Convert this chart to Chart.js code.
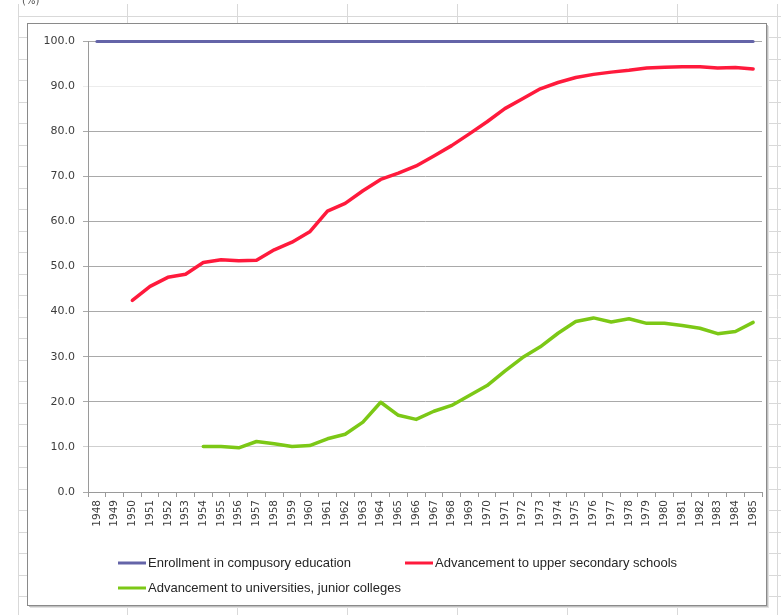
<!DOCTYPE html>
<html>
<head>
<meta charset="utf-8">
<script src="https://cdn.jsdelivr.net/npm/chart.js@4.4.1/dist/chart.umd.min.js"></script>
<style>
  html, body { margin: 0; padding: 0; background: #ffffff; }
  #wrap { width: 781px; height: 615px; position: relative; }
</style>
</head>
<body>
<div id="wrap"><canvas id="chart" width="781" height="615"></canvas></div>
<script>
// School enrollment / advancement rates (%), 1948-1985
const years = ['1948','1949','1950','1951','1952','1953','1954','1955','1956','1957',
  '1958','1959','1960','1961','1962','1963','1964','1965','1966','1967',
  '1968','1969','1970','1971','1972','1973','1974','1975','1976','1977',
  '1978','1979','1980','1981','1982','1983','1984','1985'];

const compulsoryEnrollment = [99.9, 99.9, 99.9, 99.9, 99.9, 99.9, 99.9, 99.9, 99.9, 99.9,
  99.9, 99.9, 99.9, 99.9, 99.9, 99.9, 99.9, 99.9, 99.9, 99.9,
  99.9, 99.9, 99.9, 99.9, 99.9, 99.9, 99.9, 99.9, 99.9, 99.9,
  99.9, 99.9, 99.9, 99.9, 99.9, 99.9, 99.9, 99.9];

const upperSecondary = [null, null, 42.5, 45.6, 47.6, 48.3, 50.9, 51.5, 51.3, 51.4,
  53.7, 55.4, 57.7, 62.3, 64.0, 66.8, 69.3, 70.7, 72.3, 74.5,
  76.8, 79.4, 82.1, 85.0, 87.2, 89.4, 90.8, 91.9, 92.6, 93.1,
  93.5, 94.0, 94.2, 94.3, 94.3, 94.0, 94.1, 93.8];

const universities = [null, null, null, null, null, null, 10.1, 10.1, 9.8, 11.2,
  10.7, 10.1, 10.3, 11.8, 12.8, 15.5, 19.9, 17.0, 16.1, 17.9,
  19.2, 21.4, 23.6, 26.8, 29.8, 32.2, 35.2, 37.8, 38.6, 37.7,
  38.4, 37.4, 37.4, 36.9, 36.3, 35.1, 35.6, 37.6];

const seriesLabels = ['Enrollment in compusory education',
  'Advancement to upper secondary schools',
  'Advancement to universities, junior colleges'];
const seriesColors = ['#6464a8', '#ff1a3c', '#7cc816'];

// Worksheet backdrop: cell grid, the "(%)" caption cell and the chart frame
const sheetPlugin = {
  id: 'sheet',
  beforeDraw(chart) {
    const ctx = chart.ctx;
    const W = chart.width, H = chart.height;
    ctx.save();
    ctx.fillStyle = '#ffffff';
    ctx.fillRect(0, 0, W, H);
    ctx.strokeStyle = '#d9d9d9';
    ctx.lineWidth = 1;
    // column boundaries
    const cols = [18.5, 127.5, 237.5, 347.5, 457.5, 567.5, 677.5, 777.5];
    cols.forEach(x => {
      ctx.beginPath(); ctx.moveTo(x, 4); ctx.lineTo(x, H); ctx.stroke();
    });
    // row boundaries
    for (let y = 15.5; y < H; y += 21.5) {
      const yy = Math.round(y) + 0.5;
      ctx.beginPath(); ctx.moveTo(19, yy); ctx.lineTo(W, yy); ctx.stroke();
    }
    // caption cell text, partly above the visible area
    ctx.fillStyle = '#555555';
    ctx.font = '10px "DejaVu Sans"';
    ctx.textBaseline = 'alphabetic';
    ctx.fillText('(%)', 22, 4);
    // chart frame with a soft shadow
    const fx = 27, fy = 23, fw = 739, fh = 582;
    ctx.fillStyle = '#e2e2e2';
    ctx.fillRect(fx + 3, fy + 3, fw, fh);
    ctx.fillStyle = '#c0c0c0';
    ctx.fillRect(fx + 2, fy + 2, fw, fh);
    ctx.fillStyle = '#ffffff';
    ctx.fillRect(fx, fy, fw, fh);
    ctx.strokeStyle = '#8a8a8a';
    ctx.strokeRect(fx + 0.5, fy + 0.5, fw, fh);
    ctx.restore();
  }
};

// Legend laid out in two left-aligned rows below the axis
const legendPlugin = {
  id: 'rowLegend',
  afterDraw(chart) {
    const ctx = chart.ctx;
    const slots = [[118, 563], [405, 563], [118, 588]];
    ctx.save();
    ctx.font = '13px "Liberation Sans", sans-serif';
    ctx.textBaseline = 'middle';
    chart.data.datasets.forEach((ds, i) => {
      const [x, y] = slots[i];
      ctx.strokeStyle = ds.borderColor;
      ctx.lineWidth = 3;
      ctx.beginPath(); ctx.moveTo(x, y); ctx.lineTo(x + 28, y); ctx.stroke();
      ctx.fillStyle = '#262626';
      ctx.fillText(ds.label, x + 30, y);
    });
    ctx.restore();
  }
};

const gridColor = ctx => {
  const v = ctx.tick ? ctx.tick.value : null;
  if (v === 90) return '#ececec';
  if (v === 10) return '#cfcfcf';
  return '#a9a9a9';
};

new Chart(document.getElementById('chart'), {
  type: 'line',
  data: {
    labels: years,
    datasets: [
      { label: seriesLabels[0], data: compulsoryEnrollment, borderColor: seriesColors[0], borderWidth: 3, clip: false },
      { label: seriesLabels[1], data: upperSecondary, borderColor: seriesColors[1], borderWidth: 3.5, clip: false },
      { label: seriesLabels[2], data: universities, borderColor: seriesColors[2], borderWidth: 3.5, clip: false }
    ]
  },
  options: {
    responsive: false,
    animation: false,
    devicePixelRatio: 1,
    layout: { padding: { left: 27, top: 41, right: 19, bottom: 78 } },
    elements: {
      point: { radius: 0, hoverRadius: 0 },
      line: { tension: 0, fill: false, borderCapStyle: 'round', borderJoinStyle: 'round' }
    },
    plugins: {
      legend: { display: false },
      tooltip: { enabled: false }
    },
    scales: {
      x: {
        type: 'category',
        offset: true,
        afterFit(scale) { scale.height = 45; },
        grid: { offset: true, drawOnChartArea: false, drawTicks: true, tickLength: 5, color: '#9a9a9a' },
        border: { display: true, color: '#9a9a9a', width: 1 },
        ticks: {
          autoSkip: false, minRotation: 90, maxRotation: 90, padding: 3,
          color: '#3c3c3c', font: { family: '"DejaVu Sans"', size: 10.5 }
        }
      },
      y: {
        min: 0, max: 100,
        afterFit(scale) { scale.width = 61; },
        grid: { color: gridColor, drawTicks: true, tickLength: 5 },
        border: { display: true, color: '#9a9a9a', width: 1 },
        ticks: {
          stepSize: 10, padding: 8, color: '#3c3c3c',
          font: { family: '"DejaVu Sans"', size: 11 },
          callback: v => Number(v).toFixed(1)
        }
      }
    }
  },
  plugins: [sheetPlugin, legendPlugin]
});
</script>
</body>
</html>
